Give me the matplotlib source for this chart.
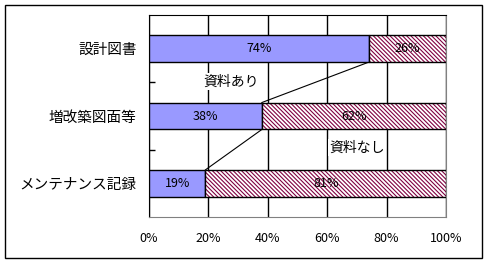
import matplotlib
matplotlib.use("Agg")
import matplotlib.pyplot as plt
from matplotlib.patches import Rectangle

plt.rcParams['font.family'] = ['Noto Sans CJK JP', 'DejaVu Sans']
plt.rcParams['hatch.linewidth'] = 0.8

categories = ['設計図書', '増改築図面等', 'メンテナンス記録']
ari = [74, 38, 19]      # 資料あり
nashi = [26, 62, 81]    # 資料なし
xticks = [0, 20, 40, 60, 80, 100]

blue = '#9999FF'
hatch_col = '#800040'
bar_h = 0.4

fig = plt.figure(figsize=(4.88, 2.64), dpi=100)
# outer chart frame
fig.patches.append(Rectangle((5 / 488, 6 / 264), 477 / 488, 253 / 264,
                             transform=fig.transFigure, fill=False,
                             edgecolor='black', linewidth=1.0))

ax = fig.add_axes([149 / 488, 47 / 264, 297 / 488, 202 / 264])
ypos = list(range(len(categories)))

ax.barh(ypos, ari, height=bar_h, color=blue, edgecolor='black', linewidth=1.0, zorder=3)
# hatched part: hatch drawn in colour, outline drawn separately in black
ax.barh(ypos, nashi, left=ari, height=bar_h, color='white', edgecolor=hatch_col,
        hatch='\\' * 8, linewidth=0, zorder=3)
ax.barh(ypos, nashi, left=ari, height=bar_h, fill=False, edgecolor='black',
        linewidth=1.0, zorder=4)

# series lines between bars
for i in range(len(categories) - 1):
    ax.plot([ari[i], ari[i + 1]], [i + bar_h / 2, i + 1 - bar_h / 2],
            color='black', linewidth=0.8, zorder=2)

for i in ypos:
    ax.text(ari[i] / 2, i, f'{ari[i]}%', ha='center', va='center',
            fontsize=9, zorder=5)
    ax.text(ari[i] + nashi[i] / 2, i, f'{nashi[i]}%', ha='center', va='center',
            fontsize=9, zorder=5)

ax.text(27.5, 0.49, '資料あり', ha='center', va='center', fontsize=10, zorder=5,
        bbox=dict(facecolor='white', edgecolor='none', pad=1))
ax.text(70, 1.47, '資料なし', ha='center', va='center', fontsize=10, zorder=5,
        bbox=dict(facecolor='white', edgecolor='none', pad=1))

ax.set_xlim(0, 100)
ax.set_ylim(2.5, -0.5)
ax.set_xticks(xticks)
ax.set_xticklabels([f'{v}%' for v in xticks], fontsize=9)
ax.tick_params(axis='x', length=0, pad=11)
ax.set_yticks(ypos)
ax.set_yticklabels(categories, fontsize=10.5)
ax.tick_params(axis='y', which='major', length=0, pad=9)
ax.set_yticks([0.5, 1.5], minor=True)
ax.tick_params(axis='y', which='minor', direction='in', length=4, width=1)

ax.xaxis.grid(True, color='black', linewidth=1.0, zorder=0)
ax.set_axisbelow(True)
for side in ['top', 'left']:
    ax.spines[side].set_color('black')
for side in ['right', 'bottom']:
    ax.spines[side].set_color('#808080')

fig.savefig('out.png', dpi=100)
